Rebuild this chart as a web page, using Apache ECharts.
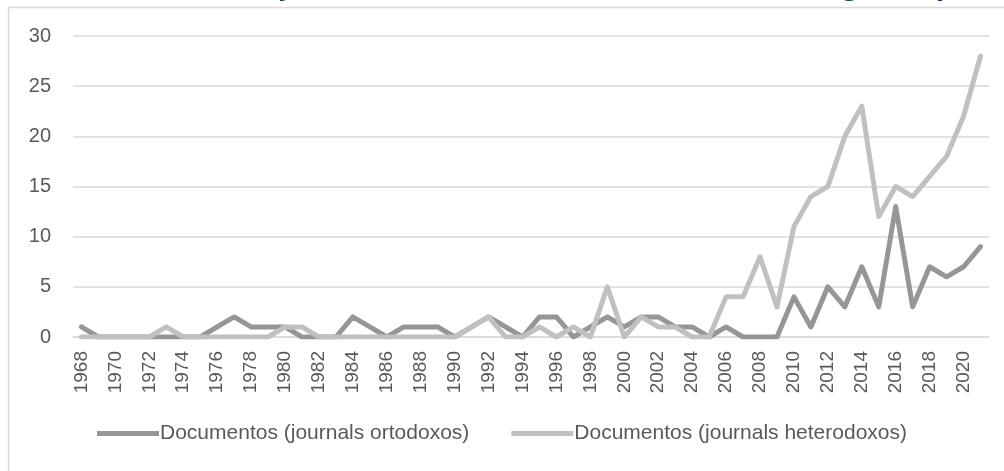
<!DOCTYPE html>
<html>
<head>
<meta charset="utf-8">
<style>
  html, body { margin: 0; padding: 0; background: #fff; overflow: hidden; }
  #chart { width: 1004px; height: 471px; }
</style>
<script src="https://cdn.jsdelivr.net/npm/echarts@6/dist/echarts.min.js"></script>
</head>
<body>
<div id="chart"></div>
<script>
// anos 1968-2021
var years = [];
for (var y = 1968; y <= 2021; y++) years.push(String(y));

var ortodoxos = [
  1, 0, 0, 0, 0, 0, 0, 0, 1, 2,   // 1968-1977
  1, 1, 1, 0, 0, 0, 2, 1, 0, 1,   // 1978-1987
  1, 1, 0, 1, 2, 1, 0, 2, 2, 0,   // 1988-1997
  1, 2, 1, 2, 2, 1, 1, 0, 1, 0,   // 1998-2007
  0, 0, 4, 1, 5, 3, 7, 3, 13, 3,  // 2008-2017
  7, 6, 7, 9                      // 2018-2021
];
var heterodoxos = [
  0, 0, 0, 0, 0, 1, 0, 0, 0, 0,   // 1968-1977
  0, 0, 1, 1, 0, 0, 0, 0, 0, 0,   // 1978-1987
  0, 0, 0, 1, 2, 0, 0, 1, 0, 1,   // 1988-1997
  0, 5, 0, 2, 1, 1, 0, 0, 4, 4,   // 1998-2007
  8, 3, 11, 14, 15, 20, 23, 12, 15, 14, // 2008-2017
  16, 18, 22, 28                  // 2018-2021
];

var chart = echarts.init(document.getElementById('chart'));
var font = 'Liberation Sans, Arial, sans-serif';

var option = {
  animation: false,
  // titulo cortado no topo, como no original
  title: {
    text: 'Gráfico 1: Publicações ortodoxas e heterodoxas ao longo do período',
    left: 2,
    top: -31,
    padding: 0,
    textStyle: { color: '#1f3864', fontWeight: 'bold', fontSize: 32, fontFamily: font }
  },
  graphic: [{
    type: 'rect',
    shape: { x: 8.5, y: 7.5, width: 1100, height: 600 },
    style: { fill: 'none', stroke: '#d9d9d9', lineWidth: 1.5 },
    silent: true
  }],
  grid: { left: 73, right: 15, top: 36, bottom: 134, containLabel: false },
  legend: {
    bottom: 22,
    left: 'center',
    itemWidth: 62,
    itemHeight: 5,
    itemGap: 42,
    icon: 'rect',
    textStyle: { color: '#595959', fontSize: 21, fontFamily: font, padding: [0, 0, 0, -4] },
    data: ['Documentos (journals ortodoxos)', 'Documentos (journals heterodoxos)']
  },
  xAxis: {
    type: 'category',
    data: years,
    boundaryGap: true,
    axisLine: { lineStyle: { color: '#d9d9d9', width: 1.5 } },
    axisTick: { show: false },
    axisLabel: {
      interval: 1,
      rotate: 90,
      margin: 14,
      color: '#595959',
      fontSize: 19,
      fontFamily: font
    }
  },
  yAxis: {
    type: 'value',
    min: 0,
    max: 30,
    interval: 5,
    axisLine: { show: false },
    axisTick: { show: false },
    splitLine: { lineStyle: { color: '#d9d9d9', width: 1.5 } },
    axisLabel: { margin: 22, color: '#595959', fontSize: 20, fontFamily: font }
  },
  series: [
    {
      name: 'Documentos (journals ortodoxos)',
      type: 'line',
      data: ortodoxos,
      symbol: 'none',
      color: '#969696',
      lineStyle: { width: 5, color: '#969696', join: 'round', cap: 'round' }
    },
    {
      name: 'Documentos (journals heterodoxos)',
      type: 'line',
      data: heterodoxos,
      symbol: 'none',
      color: '#c0c0c0',
      lineStyle: { width: 5, color: '#c0c0c0', join: 'round', cap: 'round' }
    }
  ]
};

chart.setOption(option);
</script>
</body>
</html>
